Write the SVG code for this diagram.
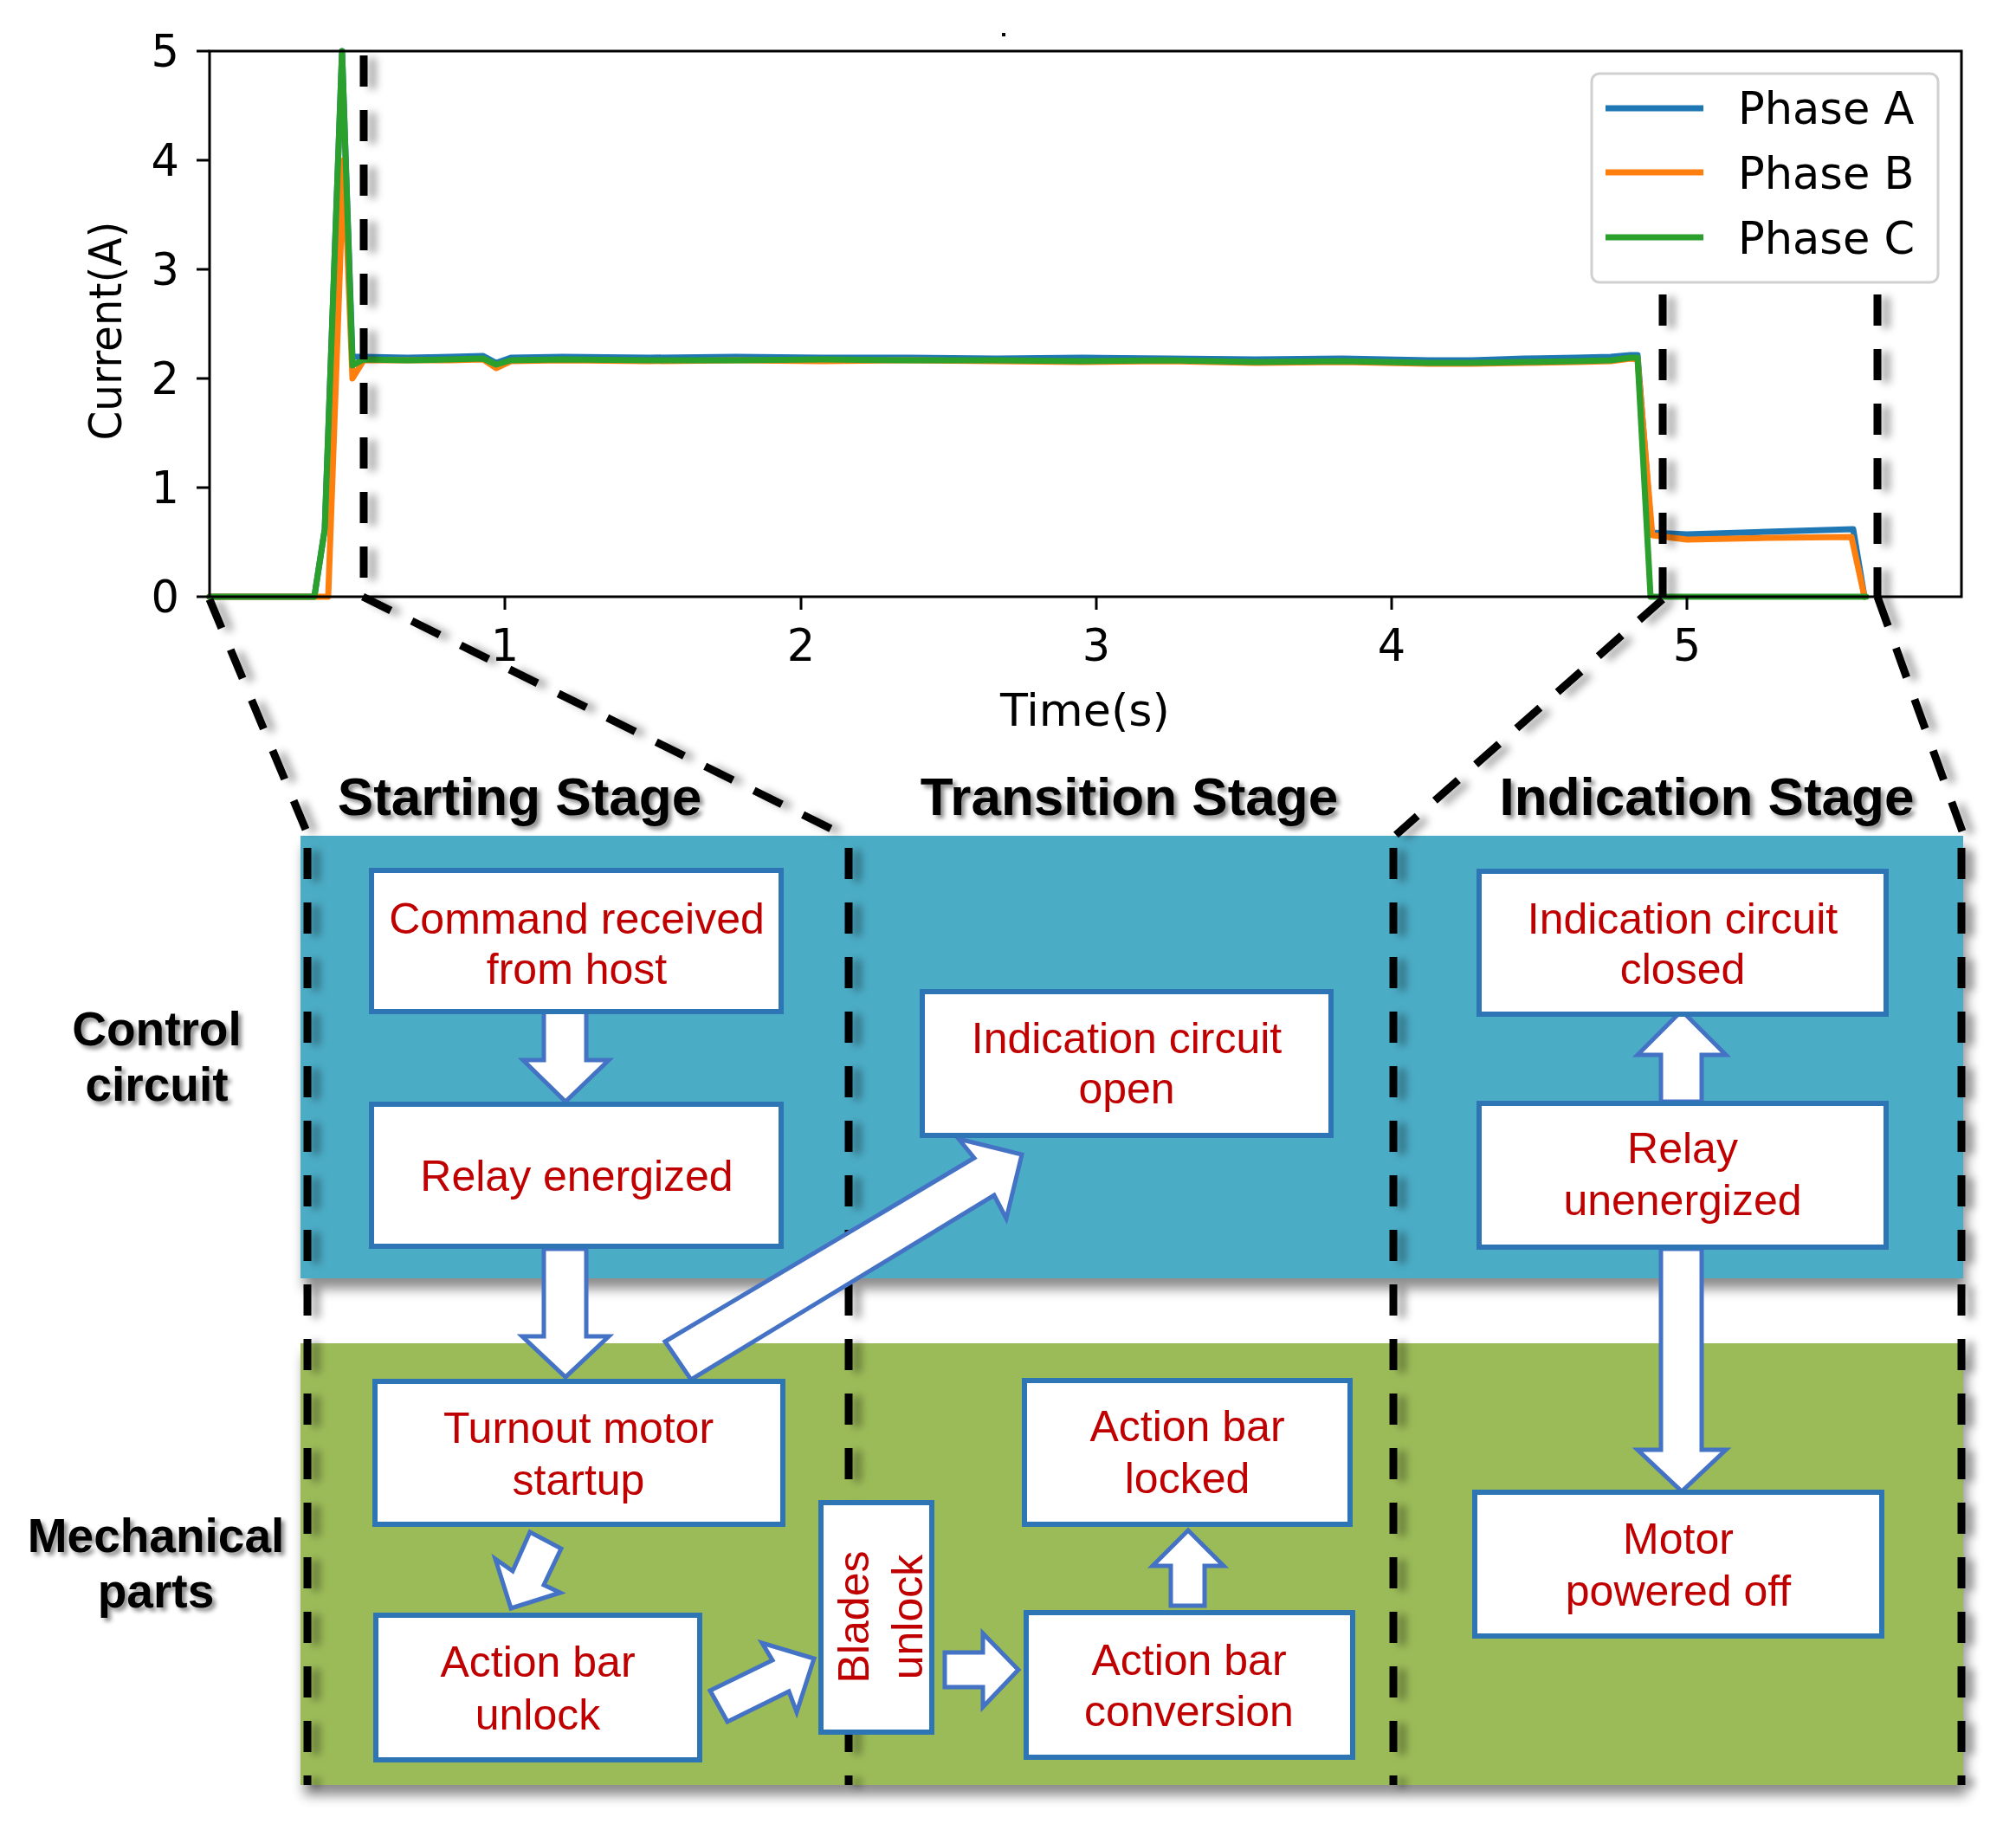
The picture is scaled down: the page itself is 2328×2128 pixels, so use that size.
<svg xmlns="http://www.w3.org/2000/svg" width="2328" height="2128" viewBox="0 0 2328 2128">
<defs>
<filter id="pshadow" filterUnits="userSpaceOnUse" x="0" y="0" width="2328" height="2128">
<feDropShadow dx="4" dy="12" stdDeviation="7" flood-color="#000" flood-opacity="0.45"/>
</filter>
<filter id="dshadow" filterUnits="userSpaceOnUse" x="0" y="0" width="2328" height="2128">
<feDropShadow dx="10" dy="3" stdDeviation="5" flood-color="#000" flood-opacity="0.35"/>
</filter>
<filter id="tshadow" filterUnits="userSpaceOnUse" x="0" y="0" width="2328" height="2128">
<feDropShadow dx="4" dy="4" stdDeviation="2.5" flood-color="#000" flood-opacity="0.45"/>
</filter>
<style>
.ax{font-family:"DejaVu Sans",sans-serif;font-size:51px;fill:#000}
.spine{stroke:#000;stroke-width:3;fill:none}
.tick{stroke:#000;stroke-width:3}
.ser{fill:none;stroke-width:7;stroke-linejoin:round;stroke-linecap:round}
.dash{stroke:#000;stroke-width:9;stroke-dasharray:36 27;fill:none}
.box{fill:#fff;stroke:#2E75B6;stroke-width:6}
.bt{font-family:"Liberation Sans",Arial,sans-serif;font-size:50px;fill:#C00000;text-anchor:middle}
.hd{font-family:"Liberation Sans",Arial,sans-serif;font-weight:bold;font-size:62px;fill:#000;text-anchor:middle}
.rl{font-family:"Liberation Sans",Arial,sans-serif;font-weight:bold;font-size:55px;fill:#000;text-anchor:middle}
.arr{fill:#fff;stroke:#4472C4;stroke-width:5;stroke-linejoin:miter}
</style>
</defs>
<rect width="2328" height="2128" fill="#fff"/>

<g id="chart">
<rect x="1157" y="38" width="4" height="4" fill="#000"/>
<polyline class="ser" stroke="#1f77b4" points="242,689 363,689 375,611 395,59 407,412 420,412 470,413 520,412 558,411 573,419 590,413 650,412 750,413 850,412 950,413 1050,413 1150,414 1250,413 1350,414 1450,415 1550,414 1650,416 1700,416 1760,414 1820,413 1860,412 1883,410 1891,410 1907,615 1948,617 2040,614 2140,611 2153,689"/>
<polyline class="ser" stroke="#ff7f0e" points="242,689 379,689 397,185 407,437 420,416 470,416 520,416 558,415 573,425 590,417 650,416 750,417 850,416 950,417 1050,416 1150,417 1250,418 1350,417 1450,419 1550,418 1650,420 1700,420 1760,419 1820,418 1860,417 1883,414 1891,415 1908,618 1948,623 2040,621 2138,620 2153,689"/>
<polyline class="ser" stroke="#2ca02c" points="242,689 363,689 375,611 395,59 407,422 420,415 470,416 520,415 558,414 573,421 590,416 650,415 750,416 850,416 950,415 1050,416 1150,416 1250,417 1350,416 1450,418 1550,417 1650,419 1700,419 1760,418 1820,417 1860,416 1883,413 1891,413 1906,689 2155,689"/>
<rect x="242" y="59" width="2023" height="630" class="spine"/>
<g class="tick">
<line x1="227" y1="59" x2="242" y2="59"/><line x1="227" y1="185" x2="242" y2="185"/><line x1="227" y1="311" x2="242" y2="311"/><line x1="227" y1="437" x2="242" y2="437"/><line x1="227" y1="563" x2="242" y2="563"/><line x1="227" y1="689" x2="242" y2="689"/>
<line x1="583" y1="689" x2="583" y2="704"/><line x1="925" y1="689" x2="925" y2="704"/><line x1="1266" y1="689" x2="1266" y2="704"/><line x1="1607" y1="689" x2="1607" y2="704"/><line x1="1948" y1="689" x2="1948" y2="704"/>
</g>
<g class="ax" text-anchor="end">
<text x="207" y="77">5</text><text x="207" y="203">4</text><text x="207" y="329">3</text><text x="207" y="455">2</text><text x="207" y="581">1</text><text x="207" y="707">0</text>
</g>
<g class="ax" text-anchor="middle">
<text x="583" y="763">1</text><text x="925" y="763">2</text><text x="1266" y="763">3</text><text x="1607" y="763">4</text><text x="1948" y="763">5</text>
<text x="1253" y="838" textLength="196" lengthAdjust="spacingAndGlyphs">Time(s)</text>
<text transform="translate(140,382) rotate(-90)" textLength="253" lengthAdjust="spacingAndGlyphs">Current(A)</text>
</g>
<g id="legend">
<rect x="1838" y="85" width="400" height="241" rx="9" fill="#fff" fill-opacity="0.85" stroke="#d0d0d0" stroke-width="3"/>
<line x1="1854" y1="125" x2="1967" y2="125" stroke="#1f77b4" stroke-width="7"/>
<line x1="1854" y1="199" x2="1967" y2="199" stroke="#ff7f0e" stroke-width="7"/>
<line x1="1854" y1="274" x2="1967" y2="274" stroke="#2ca02c" stroke-width="7"/>
<text class="ax" x="2007" y="143">Phase A</text>
<text class="ax" x="2007" y="218">Phase B</text>
<text class="ax" x="2007" y="293">Phase C</text>
</g>
</g>

<g id="panels">
<rect x="347" y="965" width="1920" height="511" fill="#4BACC6" filter="url(#pshadow)"/>
<rect x="347" y="1551" width="1920" height="510" fill="#9BBB59" filter="url(#pshadow)"/>
</g>

<g id="stage-lines" filter="url(#dshadow)">
<line class="dash" x1="420" y1="64" x2="420" y2="689"/>
<line class="dash" x1="1920" y1="330" x2="1920" y2="689" stroke-dashoffset="-10"/>
<line class="dash" x1="2168" y1="330" x2="2168" y2="689" stroke-dashoffset="-10"/>
<line class="dash" x1="242" y1="692" x2="356" y2="965"/>
<line class="dash" x1="419" y1="689" x2="960" y2="957"/>
<line class="dash" x1="1920" y1="692" x2="1612" y2="964"/>
<line class="dash" x1="2168" y1="689" x2="2266" y2="960"/>
<line class="dash" x1="355" y1="979" x2="355" y2="2061"/>
<line class="dash" x1="980" y1="979" x2="980" y2="2061"/>
<line class="dash" x1="1609" y1="979" x2="1609" y2="2061"/>
<line class="dash" x1="2265" y1="979" x2="2265" y2="2061"/>
</g>

<g id="labels" filter="url(#tshadow)">
<text class="hd" x="600" y="941">Starting Stage</text>
<text class="hd" x="1304" y="941">Transition Stage</text>
<text class="hd" x="1971" y="941">Indication Stage</text>
<text class="rl" x="181" y="1207">Control</text>
<text class="rl" x="181" y="1271">circuit</text>
<text class="rl" x="180" y="1792">Mechanical</text>
<text class="rl" x="180" y="1856">parts</text>
</g>

<g id="connectors">
<polygon class="arr" points="628,1168 677,1168 677,1224 703,1224 653,1272 604,1224 628,1224"/>
<polygon class="arr" points="628,1442 677,1442 677,1543 703,1543 653,1590 603,1543 628,1543"/>
<polygon class="arr" points="768,1549 1125,1337 1107,1315 1180,1333 1162,1407 1148,1380 798,1593"/>
<polygon class="arr" points="612,1769 648,1788 628,1830 647,1839 590,1857 572,1800 592,1814"/>
<polygon class="arr" points="820,1952 892,1917 880,1897 940,1915 920,1977 911,1953 840,1988"/>
<polygon class="arr" points="1091,1908 1135,1908 1135,1886 1176,1928 1135,1971 1135,1948 1091,1948"/>
<polygon class="arr" points="1352,1854 1352,1808 1331,1808 1372,1767 1413,1808 1391,1808 1391,1854"/>
<polygon class="arr" points="1918,1272 1918,1218 1891,1218 1942,1167 1993,1218 1965,1218 1965,1272"/>
<polygon class="arr" points="1918,1442 1965,1442 1965,1674 1993,1674 1942,1722 1891,1674 1918,1674"/>
</g>

<g id="n1"><rect class="box" x="429" y="1005" width="473" height="163"/><text class="bt" x="666" y="1078">Command received</text><text class="bt" x="666" y="1136">from host</text></g>
<g id="n2"><rect class="box" x="429" y="1275" width="473" height="164"/><text class="bt" x="666" y="1375">Relay energized</text></g>
<g id="n3"><rect class="box" x="433" y="1595" width="471" height="165"/><text class="bt" x="668" y="1666">Turnout motor</text><text class="bt" x="668" y="1726">startup</text></g>
<g id="n4"><rect class="box" x="434" y="1865" width="374" height="167"/><text class="bt" x="621" y="1936">Action bar</text><text class="bt" x="621" y="1997">unlock</text></g>
<g id="n5"><rect class="box" x="948" y="1735" width="128" height="265"/><text class="bt" transform="translate(1003,1867) rotate(-90)">Blades</text><text class="bt" transform="translate(1065,1867) rotate(-90)">unlock</text></g>
<g id="n6"><rect class="box" x="1065" y="1145" width="472" height="166"/><text class="bt" x="1301" y="1216">Indication circuit</text><text class="bt" x="1301" y="1274">open</text></g>
<g id="n7"><rect class="box" x="1183" y="1594" width="376" height="166"/><text class="bt" x="1371" y="1664">Action bar</text><text class="bt" x="1371" y="1724">locked</text></g>
<g id="n8"><rect class="box" x="1185" y="1862" width="377" height="167"/><text class="bt" x="1373" y="1934">Action bar</text><text class="bt" x="1373" y="1993">conversion</text></g>
<g id="n9"><rect class="box" x="1708" y="1006" width="470" height="165"/><text class="bt" x="1943" y="1078">Indication circuit</text><text class="bt" x="1943" y="1136">closed</text></g>
<g id="n10"><rect class="box" x="1708" y="1274" width="470" height="166"/><text class="bt" x="1943" y="1343">Relay</text><text class="bt" x="1943" y="1403">unenergized</text></g>
<g id="n11"><rect class="box" x="1703" y="1723" width="470" height="166"/><text class="bt" x="1938" y="1794">Motor</text><text class="bt" x="1938" y="1854">powered off</text></g>
</svg>
